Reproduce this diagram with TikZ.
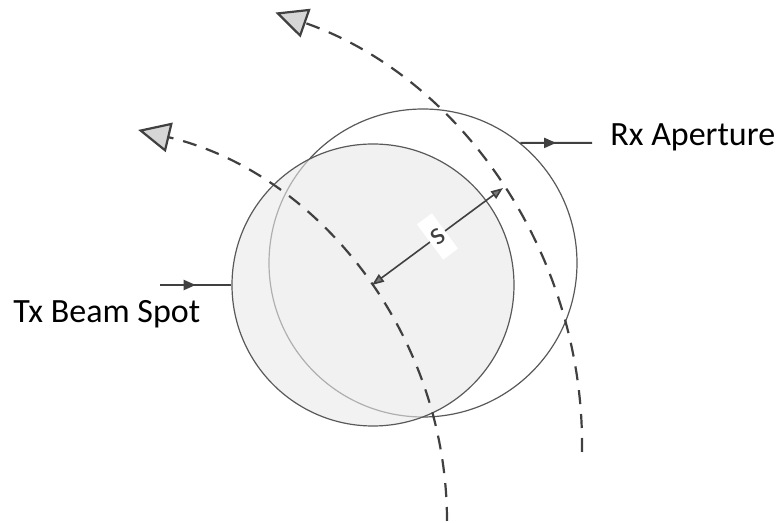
\documentclass[tikz,border=0pt]{standalone}
\usepackage{fontspec}
\setmainfont{Carlito}
\usetikzlibrary{arrows.meta, decorations.markings}
\definecolor{spotFill}{HTML}{E9E9E9}
\definecolor{rimGray}{HTML}{595959}
\definecolor{trackGray}{HTML}{404040}
\definecolor{tipFill}{HTML}{D6D6D6}
\definecolor{headGray}{HTML}{7A7A7A}
\tikzset{
  disc/.style={circle, draw=rimGray, line width=0.6pt, inner sep=0pt},
  aperture/.style={disc, fill=white},
  spot/.style={disc, fill=spotFill, fill opacity=0.6, text opacity=1},
  track/.style={
    trackGray, line width=1.1pt, dash pattern=on 7pt off 5pt,
    -{Triangle[length=16pt, width=15pt, fill=tipFill]}
  },
  gap/.style={
    trackGray, line width=0.8pt,
    {Triangle[length=6pt, width=4.5pt, fill=headGray]}-{Triangle[length=6pt, width=4.5pt, fill=headGray]}
  },
  gaptag/.style={sloped, fill=white, inner xsep=1.5pt, inner ysep=0pt,
    minimum height=22pt, font=\fontsize{16}{18}\selectfont},
  callout/.style={
    trackGray, line width=1pt, postaction={decorate},
    decoration={markings, mark=at position 0.5 with {\arrow{Triangle[length=6pt, width=5pt]}}}
  },
  caption/.style={font=\fontsize{17}{20}\selectfont, anchor=base west, inner sep=0pt}
}
\begin{document}
\begin{tikzpicture}[x=0.5pt, y=-0.5pt]
  \useasboundingbox (0,0) rectangle (778,523);
  % receiver aperture, then the beam spot over it
  \node[aperture, minimum size=154pt] (rx) at (423,263) {};
  \node[spot, minimum size=141pt] (tx) at (373,285) {};
  % the two tracks
  \draw[track] (447,521) arc[start angle=0, end angle=76.6, radius=201pt];
  \draw[track] (582,452) arc[start angle=-0.9, end angle=70.7, radius=229pt];
  % separation
  \coordinate (inner) at (372,285);
  \coordinate (outer) at (503,188);
  \draw[gap] (inner) -- node[gaptag] {s} (outer);
  % callouts
  \node[caption] (txtag) at (13,323) {Tx Beam Spot};
  \node[caption] (rxtag) at (610,146) {Rx Aperture};
  \coordinate (txfoot) at (160,285);
  \coordinate (rxfoot) at (592,143);
  \draw[callout] (txfoot) -- (tx.west);
  \draw[callout] (rx.51.2) -- (rxfoot);
\end{tikzpicture}
\end{document}
